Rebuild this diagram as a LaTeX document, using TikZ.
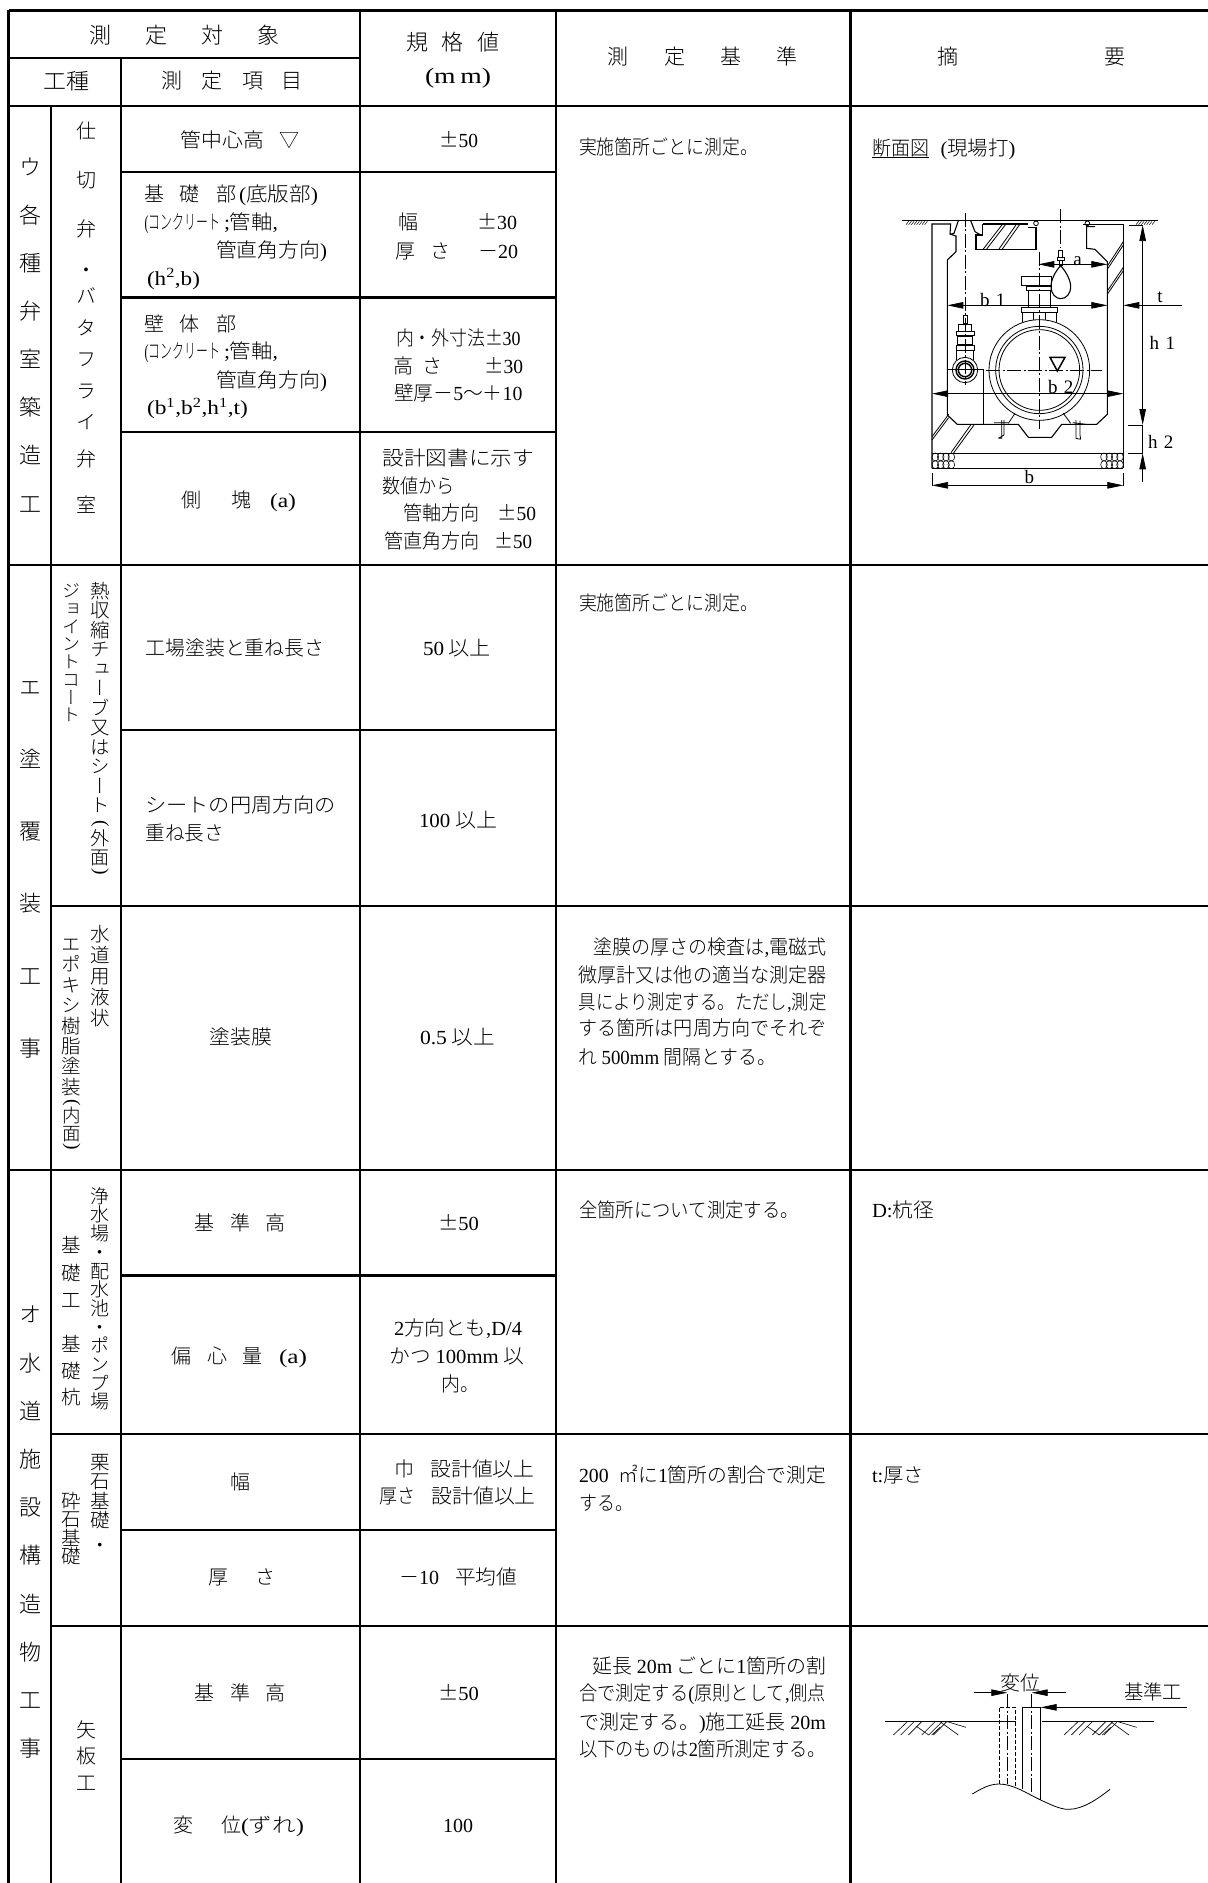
\documentclass[tikz,border=0pt]{standalone}
\usepackage{fontspec}
\usepackage{graphicx}
\usetikzlibrary{arrows.meta}
\setmainfont{Noto Sans CJK JP}[UprightFont=* Light,BoldFont=*]
\newfontfamily\vcj{Noto Sans CJK JP}[UprightFont=* Light,RawFeature=+vert]
\newfontfamily\latf{Liberation Serif}
\newcommand\lat[1]{{\latf #1}}
\newcommand\PM{\makebox[.95em]{±}}
\newcounter{tc}
\newsavebox\fitbx
\newcommand\fitw[2]{\sbox\fitbx{#2}\pgfmathsetmacro\rr{(#1)/\the\wd\fitbx}\scalebox{\rr}[1]{\usebox\fitbx}}
% fitted text line: x1, x2, y centre, size, text
\newcommand\TL[5]{\stepcounter{tc}\pgfmathsetmacro\xm{(#1+#2)/2}\pgfmathsetmacro\yb{#3+0.38*#4}%
  \node[txt] (t\arabic{tc}) at (\xm,\yb) {\fitw{#2-#1}{\fontsize{#4}{#4}\selectfont #5}};}
% single centred text: x, y, size, text
\newcommand\TC[4]{\stepcounter{tc}\pgfmathsetmacro\yb{#2+0.38*#3}%
  \node[txt] (t\arabic{tc}) at (#1,\yb) {\fontsize{#3}{#3}\selectfont #4};}
% rotated half-width bracket in vertical text
\newcommand\TP[4]{\stepcounter{tc}\node[txt,anchor=center,rotate=-90] (t\arabic{tc}) at (#1,#2) {\fontsize{#3}{#3}\selectfont\latf #4};}
\makeatletter
% vertical stack: x, y centre of first glyph, pitch, size, glyphs
\newcommand\VS[5]{\stepcounter{tc}\pgfmathsetmacro\yt{#2-0.5*#3}%
  \node[txt,anchor=north] (t\arabic{tc}) at (#1,\yt) {\fontsize{#4}{#4}\vcj\selectfont
    \vbox{\offinterlineskip\@tfor\ch:=#5\do{\vbox to #3pt{\vskip\dimexpr #3pt/2+.38em\relax\hbox to #4pt{\hss\smash{\ch}\hss}\vss}}}};}
\makeatother
\tikzset{
  txt/.style={inner sep=0pt,outer sep=0pt,anchor=base,text=black},
  rule/.style={line width=2.1pt,black},
  thin/.style={line width=0.8pt,black},
  wall/.style={line width=1.1pt,black},
  dim/.style={line width=0.75pt,black},
  cl/.style={line width=0.75pt,black,dash pattern=on 14pt off 2.5pt on 2pt off 2.5pt},
  lab/.style={inner sep=0pt,font=\latf\fontsize{19}{19}\selectfont,text=black},
  >={Triangle[length=16pt,width=6.5pt]}
}
\begin{document}
\begin{tikzpicture}[x=1pt,y=-1pt]
\useasboundingbox (0,0) rectangle (1208,1883);
\fill[white] (0,0) rectangle (1208,1883);
% ---- table rules
\foreach \y in {10.5,105.8,565,906,1170,1433.6,1625.7} {
  \ifdim\y pt=906pt \draw[rule] (51,\y)--(1208,\y);
  \else\ifdim\y pt=1433.6pt \draw[rule] (51,\y)--(1208,\y);
  \else\ifdim\y pt=1625.7pt \draw[rule] (51,\y)--(1208,\y);
  \else \draw[rule] (8.5,\y)--(1208,\y); \fi\fi\fi }
\draw[rule] (8.5,57.7)--(360,57.7);
\foreach \y in {171.7,297.5,432,729.7,1275.5,1530,1759} \draw[rule] (121,\y)--(556,\y);
\draw[rule] (8.5,9.5)--(8.5,1883);
\draw[rule] (51,105.8)--(51,1883);
\draw[rule] (121,57.7)--(121,1883);
\foreach \x in {360,556,850.5} \draw[rule] (\x,9.5)--(\x,1883);
% ---- header
\TC{100}{35}{22}{測}\TC{156}{35}{22}{定}\TC{212}{35}{22}{対}\TC{268}{35}{22}{象}
\TL{43}{89}{81}{22}{工種}
\TC{172}{81}{21}{測}\TC{212}{81}{21}{定}\TC{252.6}{81}{21}{項}\TC{292}{81}{21}{目}
\TC{417}{42.5}{22}{規}\TC{452}{42.5}{22}{格}\TC{488}{42.5}{22}{値}
\TL{425}{491}{75}{22}{\lat{(m\,m)}}
\TC{618}{57}{21}{測}\TC{674.5}{57}{21}{定}\TC{730.6}{57}{21}{基}\TC{787}{57}{21}{準}
\TC{948}{57}{21}{摘}\TC{1115}{57}{21}{要}
% ---- first column stacks
\VS{30.5}{167}{48.1}{22}{ウ各種弁室築造工}
\VS{30.5}{686.7}{72.3}{22}{エ塗覆装工事}
\VS{30.5}{1314.5}{48.2}{22}{オ水道施設構造物工事}
% ---- second column stacks
\VS{86.5}{131}{49}{20}{仕切弁}
\VS{86.5}{270}{20}{20}{・}
\VS{86.5}{296}{31.5}{20}{バタフライ}
\VS{86.5}{459}{46}{20}{弁室}
\VS{100}{591}{19.5}{19.5}{熱収縮チューブ又はシート}
\TP{100}{824}{19.5}{(}\VS{100}{838}{19}{19}{外面}\TP{100}{872}{19.5}{)}
\VS{71.5}{591}{17.7}{18}{ジョイントコート}
\VS{100}{933.7}{21}{19.5}{水道用液状}
\VS{71.5}{944}{20.4}{19.5}{エポキシ樹脂塗装}
\TP{71.5}{1103}{19.5}{(}\VS{71.5}{1115}{18.5}{18.5}{内面}\TP{71.5}{1147}{19.5}{)}
\VS{100}{1196}{18.7}{19}{浄水場・配水池・ポンプ場}
\VS{71.5}{1245}{27.7}{19.5}{基礎工}
\VS{71.5}{1344}{26.7}{19.5}{基礎杭}
\VS{100}{1462}{19.4}{19.5}{栗石基礎}
\VS{100}{1545}{20}{19.5}{・}
\VS{71.5}{1501}{18.5}{19.5}{砕石基礎}
\VS{86}{1729.4}{26.5}{20}{矢板工}
% ---- measurement items and values
\TL{180.6}{264}{140}{20}{管中心高}\TC{289.7}{140}{20}{▽}
\TL{440}{478}{140}{20}{\PM\lat{50}}
\TC{154}{194}{20}{基}\TC{189}{194}{20}{礎}\TC{226}{194}{20}{部}
\TL{239}{318}{194}{20}{\lat{(}底版部\lat{)}}
\TL{144.7}{220}{222}{20}{\lat{(}コンクリート}\TL{224}{278}{222}{20}{\lat{;}管軸\lat{,}}
\TL{216}{327}{250}{20}{管直角方向\lat{)}}
\TL{147}{200}{277.5}{20}{\lat{(h\textsuperscript{2},b)}}
\TC{408}{222}{20}{幅}\TL{478}{517}{222}{20}{\PM\lat{30}}
\TC{405.7}{251}{20}{厚}\TC{440}{251}{20}{さ}\TL{478}{518}{251}{20}{－\lat{20}}
\TC{154}{323.7}{20}{壁}\TC{189}{323.7}{20}{体}\TC{226}{323.7}{20}{部}
\TL{144.7}{220}{351}{20}{\lat{(}コンクリート}\TL{224}{278}{351}{20}{\lat{;}管軸\lat{,}}
\TL{216}{327}{380}{20}{管直角方向\lat{)}}
\TL{147}{248}{407}{20}{\lat{(b\textsuperscript{1},b\textsuperscript{2},h\textsuperscript{1},t)}}
\TL{396}{520.5}{337.8}{20}{内・外寸法\PM\lat{30}}
\TC{403}{365.5}{20}{高}\TC{432.5}{365.5}{20}{さ}\TL{485}{523}{365.5}{20}{\PM\lat{30}}
\TL{394}{522.4}{393}{20}{壁厚－\lat{5}〜＋\lat{10}}
\TC{191}{499.5}{20}{側}\TC{241}{499.5}{20}{塊}\TL{270}{296}{499.5}{20}{\lat{(a)}}
\TL{382.7}{534}{458}{20}{設計図書に示す}
\TL{382.7}{455}{485.4}{20}{数値から}
\TL{403.7}{480}{513}{20}{管軸方向}\TL{498}{536}{513}{20}{\PM\lat{50}}
\TL{384.6}{480}{541}{20}{管直角方向}\TL{495}{532}{541}{20}{\PM\lat{50}}
\TL{145.4}{324.5}{648}{20}{工場塗装と重ね長さ}
\TL{423}{491}{648}{20}{\lat{50} 以上}
\TL{145.4}{336}{805}{20}{シートの円周方向の}
\TL{145.4}{224}{833}{20}{重ね長さ}
\TL{419}{497}{819.4}{20}{\lat{100} 以上}
\TL{209.5}{272}{1037}{20}{塗装膜}
\TL{420}{495}{1037}{20}{\lat{0.5} 以上}
\TC{204.7}{1223}{20}{基}\TC{240}{1223}{20}{準}\TC{275.5}{1223}{20}{高}
\TL{439}{479}{1223}{20}{\PM\lat{50}}
\TC{181.8}{1356}{20}{偏}\TC{217}{1356}{20}{心}\TC{252.6}{1356}{20}{量}\TL{279}{307}{1356}{20}{\lat{(a)}}
\TL{394}{522}{1328}{20}{\lat{2}方向とも\lat{,D/4}}
\TL{389.6}{524}{1356}{20}{かつ \lat{100mm} 以}
\TL{441}{479}{1383.6}{20}{内。}
\TC{240}{1482}{20}{幅}
\TC{404.5}{1469}{20}{巾}\TL{430.5}{534.6}{1469}{20}{設計値以上}
\TL{379}{415}{1495.6}{20}{厚さ}\TL{431.5}{535.7}{1495.6}{20}{設計値以上}
\TC{218}{1577}{20}{厚}\TC{265}{1577}{20}{さ}
\TL{399}{439}{1577}{20}{－\lat{10}}\TL{455}{517}{1577}{20}{平均値}
\TC{204.7}{1692.5}{20}{基}\TC{240}{1692.5}{20}{準}\TC{275.5}{1692.5}{20}{高}
\TL{439}{479}{1692.5}{20}{\PM\lat{50}}
\TC{183.7}{1825}{20}{変}\TC{231.5}{1825}{20}{位}\TL{241}{304}{1825}{20}{\lat{(}ずれ\lat{)}}
\TL{443}{473}{1825}{20}{\lat{100}}
% ---- measurement basis
\TL{579}{758}{146.7}{20}{実施箇所ごとに測定。}
\TL{579}{758}{603}{20}{実施箇所ごとに測定。}
\TL{593}{826.5}{946.7}{20}{塗膜の厚さの検査は\lat{,}電磁式}
\TL{578.6}{826.5}{975}{20}{微厚計又は他の適当な測定器}
\TL{578.6}{826.5}{1001.7}{20}{具により測定する。ただし\lat{,}測定}
\TL{578.6}{826.5}{1028}{20}{する箇所は円周方向でそれぞ}
\TL{578.6}{776}{1056.7}{20}{れ \lat{500mm} 間隔とする。}
\TL{579}{799}{1210}{20}{全箇所について測定する。}
\TL{579}{826}{1475}{20}{\lat{200}\hspace{.5em}㎡に\lat{1}箇所の割合で測定}
\TL{579}{633}{1503}{20}{する。}
\TL{592.6}{826}{1666}{20}{延長 \lat{20m} ごとに\lat{1}箇所の割}
\TL{579}{826}{1693}{20}{合で測定する\lat{(}原則として\lat{,}側点}
\TL{579}{826}{1721.7}{20}{で測定する。\lat{)}施工延長 \lat{20m}}
\TL{579}{826}{1748.4}{20}{以下のものは\lat{2}箇所測定する。}
% ---- remarks
\TL{872}{929}{148}{20}{断面図}\TL{940.6}{1015.5}{148}{20}{\lat{(}現場打\lat{)}}
\draw[line width=1.3pt] (872,157.7)--(929,157.7);
\TL{872}{934}{1210}{20}{\lat{D:}杭径}
\TL{872}{924}{1475}{20}{\lat{t:}厚さ}
% ---- valve chamber section
\begin{scope}[shift={(850,180)},x=0.33333pt,y=-0.33333pt]
 \draw[thin] (155,120)--(925,120);
 \foreach \x in {168,176,...,224} \draw[line width=.5pt] (\x,134)--(\x+8,124);
 \foreach \x in {858,866,...,910} \draw[line width=.5pt] (\x,134)--(\x+8,124);
 % chamber contour
 \draw[wall] (398,132)--(398,165)--(378,165)--(378,208)--(558,208)--(558,142)--(535,142);
 \draw[wall] (398,132)--(535,132);
 \draw[wall] (246,865)--(246,132)--(302,132)--(300,162)--(318,168)--(318,215)--(292,240)--(292,705)--(322,733)--(505,733)--(535,772)--(605,772)--(635,733)--(740,733)--(772,703)--(772,245)--(735,208)--(710,205)--(710,140)--(735,140);
 \draw[wall] (700,134)--(820,134)--(820,865);
 \draw[wall] (325,122)--(312,160)--(300,163);
 \draw[wall] (362,122)--(375,155)--(392,165)--(398,165);
 \draw[thin] (558,130) circle (7); \draw[thin] (712,130) circle (7);
 \draw[wall] (246,820)--(820,820) (246,865)--(820,865);
 \draw[thin] (292,568)--(400,568)--(400,733);
 % wall hatching
 \foreach \a/\b/\c/\d in {400/207/458/132,410/207/468/132,447/207/500/132,457/207/510/132,772/258/820/185,772/268/820/195,772/333/820/262,772/343/820/272,246/770/296/703,246/780/296/713,303/818/362/735,310/820/372/735}
   \draw[thin] (\a,\b)--(\c,\d);
 % gravel
 \foreach \x in {256,272,288,304,762,778,794,810} \foreach \y in {831,854} {
   \draw[line width=.55pt] (\x,\y) ellipse (10 and 12); }
 % pipe
 \draw[thin] (568,570) circle (151) (568,570) circle (131) (568,570) circle (121);
 \draw[thin] (515,315) rectangle (605,290);
 \draw[thin] (530,320) rectangle (605,330);
 \draw[thin] (535,330)--(535,383) (600,330)--(600,383);
 \draw[thin] (513,383) rectangle (622,397);
 \draw[thin] (517,397)--(517,425) (620,397)--(620,425) (550,397)--(550,420) (585,397)--(585,420);
 \draw[thin] (475,730)--(495,700) (662,730)--(640,700);
 \draw[thin] (432,728)--(475,728) (455,720)--(455,775)--(445,775) (462,720)--(462,765)--(445,775);
 \draw[thin] (668,728)--(708,733) (678,720)--(678,775)--(692,778) (690,722)--(690,765)--(692,778);
 % air valve
 \draw[wall] (632,257) .. controls (615,275) and (603,300) .. (603,320) .. controls (603,342) and (618,356) .. (632,356) .. controls (648,356) and (662,342) .. (662,320) .. controls (662,300) and (648,275) .. (632,257);
 \draw[thin] (626,210) rectangle (638,232);\draw[thin] (622,232) rectangle (642,242);\draw[thin] (628,242) rectangle (636,257);
 % gate valve
 \draw[thin] (339,405) rectangle (351,430);
 \draw[thin] (325,432) rectangle (365,455);
 \draw[thin] (318,455) rectangle (372,467);
 \draw[thin] (322,470) rectangle (368,492);
 \draw[thin] (318,495) rectangle (372,510);
 \draw[thin] (320,510)--(320,540) (370,510)--(370,540);
 \draw[thin] (345,570) circle (38);
 \draw[line width=1.4pt] (345,570) circle (27) (345,570) circle (20);
 % water level mark
 \draw[line width=1.5pt] (600,532)--(645,532)--(622,573)--cycle;
 % centre lines
 \draw[cl] (345,98)--(345,615);
 \draw[cl] (632,88)--(632,205);
 \draw[cl] (568,215)--(568,748);
 \draw[cl] (408,570)--(755,570);
 % dimensions
 \draw[dim,<->] (565,253)--(772,253);
 \draw[dim,<->] (292,376)--(772,376);
 \draw[dim,<-] (820,376)--(995,376);
 \draw[dim,<->] (246,641)--(820,641);
 \draw[dim,<->] (246,916)--(820,916);
 \draw[dim] (246,880)--(246,918) (820,880)--(820,918);
 \draw[dim,<->] (878,135)--(878,735);
 \draw[dim] (878,735)--(878,820);
 \draw[dim,<-] (878,820)--(878,905);
 \draw[dim] (838,135)--(878,135) (835,736)--(878,736) (835,820)--(878,820);
 \node[lab] (la) at (683,243) {a};
 \node[lab] (lb1) at (428,360) {b\,\,1};
 \node[lab] (lt) at (930,352) {t};
 \node[lab] (lh1) at (937,490) {h\,\,1};
 \node[lab] (lb2) at (632,622) {b\,\,2};
 \node[lab] (lh2) at (932,785) {h\,\,2};
 \node[lab] (lb) at (538,890) {b};
\end{scope}
% ---- sheet pile sketch
\TL{1000}{1040}{1682.5}{20}{変位}
\TL{1124}{1182}{1691.5}{20}{基準工}
\begin{scope}[shift={(850,1620)},x=0.33333pt,y=-0.33333pt]
 \draw[dim] (372,218)--(422,218);\draw[dim] (597,218)--(648,218);
 \draw[dim,->] (422,218)--(472,218);
 \draw[dim,->] (597,218)--(545,218);
 \draw[dim,->] (1010,262)--(572,262);
 \draw[thin] (518,262)--(572,262);
 \draw[thin] (518,262)--(518,508) (572,262)--(572,540);
 \draw[cl] (472,222)--(472,492);
 \draw[cl] (545,222)--(545,525);
 \draw[thin,dashed,dash pattern=on 4pt off 2pt] (447,492)--(447,262)--(497,262)--(497,497);
 \draw[thin] (105,303)--(497,303) (575,303)--(912,303);
 \foreach \o in {0,512} {
  \foreach \a/\b/\c/\d in {130/345/172/305,152/345/192/305,175/345/215/305,198/318/236/345,215/345/255/305,236/345/276/305,250/345/290/305,270/305/325/345,292/305/348/322,245/345/270/322}
   \draw[line width=.6pt] (\a+\o,\b)--(\c+\o,\d);
 }
 \draw[thin] (367,522) .. controls (395,505) and (420,492) .. (447,492) .. controls (490,492) and (530,520) .. (572,540) .. controls (600,553) and (630,568) .. (655,568) .. controls (700,568) and (745,535) .. (780,508);
\end{scope}
\end{tikzpicture}
\end{document}
